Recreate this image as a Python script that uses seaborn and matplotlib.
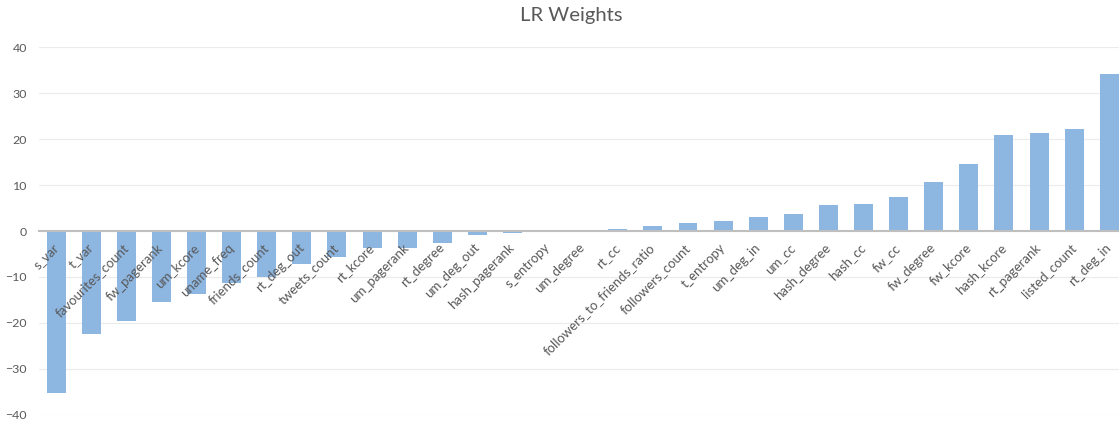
import matplotlib
matplotlib.use("Agg")
import matplotlib.pyplot as plt
import seaborn as sns
import pandas as pd

features = [
    "s_var", "t_var", "favourites_count", "fw_pagerank", "um_kcore", "uname_freq",
    "friends_count", "rt_deg_out", "tweets_count", "rt_kcore", "um_pagerank",
    "rt_degree", "um_deg_out", "hash_pagerank", "s_entropy", "um_degree", "rt_cc",
    "followers_to_friends_ratio", "followers_count", "t_entropy", "um_deg_in",
    "um_cc", "hash_degree", "hash_cc", "fw_cc", "fw_degree", "fw_kcore",
    "hash_kcore", "rt_pagerank", "listed_count", "rt_deg_in",
]
weights = [
    -35.3, -22.5, -19.7, -15.5, -13.7, -11.4,
    -9.95, -7.1, -5.7, -3.8, -3.6,
    -2.7, -0.8, -0.35, 0.0, 0.0, 0.4,
    1.1, 1.8, 2.1, 3.1,
    3.75, 5.6, 5.85, 7.5, 10.6, 14.7,
    21.0, 21.4, 22.3, 34.3,
]
y_ticks = [-40, -30, -20, -10, 0, 10, 20, 30, 40]
title = "LR Weights"

df = pd.DataFrame({"feature": features, "weight": weights})

sns.set_theme(style="white")
plt.rcParams["font.family"] = ["Lato", "DejaVu Sans"]

W, H = 1119, 421
fig = plt.figure(figsize=(W / 100, H / 100), dpi=100)
left_px, right_px = 38.6, 1126.8
top_px, bot_px = 47.4, 414.6
ax = fig.add_axes([left_px / W, 1 - bot_px / H, (right_px - left_px) / W, (bot_px - top_px) / H])

text_col = "#595959"
sns.barplot(data=df, x="feature", y="weight", order=features, color="#8DB6E1",
            saturation=1, width=0.54, linewidth=0, ax=ax, zorder=2)

ax.set_xlim(-0.5, len(features) - 0.5)
ax.set_ylim(-40, 40)
ax.set_yticks(y_ticks)
ax.set_xlabel("")
ax.set_ylabel("")
ax.grid(axis="y", color="#EBEBEB", linewidth=0.8)
ax.grid(axis="x", visible=False)
ax.set_axisbelow(True)
ax.xaxis.set_zorder(4)

for s in ["top", "left", "right"]:
    ax.spines[s].set_visible(False)
ax.spines["bottom"].set_position(("data", 0))
ax.spines["bottom"].set_color("#BFBFBF")
ax.spines["bottom"].set_linewidth(1.5)
ax.spines["bottom"].set_zorder(3)

ax.tick_params(axis="y", length=0, pad=8.3, labelsize=8.9, labelcolor=text_col)
ax.tick_params(axis="x", length=0, pad=10.5, labelsize=9.5, labelcolor=text_col)
plt.setp(ax.get_xticklabels(), rotation=45, ha="right", va="center", rotation_mode="anchor")

fig.text(571 / W, 1 - 15 / H, title, ha="center", va="center", fontsize=14.6, color=text_col)

fig.savefig("out.png", dpi=100)
